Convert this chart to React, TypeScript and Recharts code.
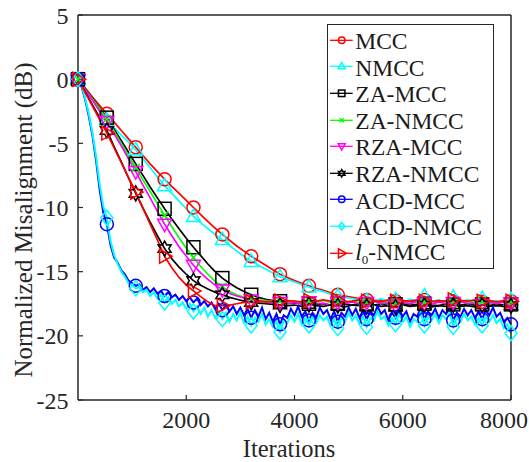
import { LineChart, Line, XAxis, YAxis, Label } from "recharts"

const FONT = "'Liberation Serif', 'DejaVu Serif', serif"
const AXIS_COLOR = "#262626"

// iteration grids (coarse: every 133.3, fine: every 66.7)
const ITER_COARSE = [
  0, 133, 267, 400, 533, 667, 800, 933, 1067, 1200,
  1333, 1467, 1600, 1733, 1867, 2000, 2133, 2267, 2400, 2533,
  2667, 2800, 2933, 3067, 3200, 3333, 3467, 3600, 3733, 3867,
  4000, 4133, 4267, 4400, 4533, 4667, 4800, 4933, 5067, 5200,
  5333, 5467, 5600, 5733, 5867, 6000, 6133, 6267, 6400, 6533,
  6667, 6800, 6933, 7067, 7200, 7333, 7467, 7600, 7733, 7867,
  8000,
]

const ITER_FINE = [
  0, 67, 133, 200, 267, 333, 400, 467, 533, 600,
  667, 733, 800, 867, 933, 1000, 1067, 1133, 1200, 1267,
  1333, 1400, 1467, 1533, 1600, 1667, 1733, 1800, 1867, 1933,
  2000, 2067, 2133, 2200, 2267, 2333, 2400, 2467, 2533, 2600,
  2667, 2733, 2800, 2867, 2933, 3000, 3067, 3133, 3200, 3267,
  3333, 3400, 3467, 3533, 3600, 3667, 3733, 3800, 3867, 3933,
  4000, 4067, 4133, 4200, 4267, 4333, 4400, 4467, 4533, 4600,
  4667, 4733, 4800, 4867, 4933, 5000, 5067, 5133, 5200, 5267,
  5333, 5400, 5467, 5533, 5600, 5667, 5733, 5800, 5867, 5933,
  6000, 6067, 6133, 6200, 6267, 6333, 6400, 6467, 6533, 6600,
  6667, 6733, 6800, 6867, 6933, 7000, 7067, 7133, 7200, 7267,
  7333, 7400, 7467, 7533, 7600, 7667, 7733, 7800, 7867, 7933,
  8000,
]

const X_TICKS = [2000, 4000, 6000, 8000]
const Y_TICKS = [-25, -20, -15, -10, -5, 0, 5]

const MCC = [
  0, -0.7, -1.4, -2.05, -2.7, -3.35, -4.0, -4.65, -5.3, -5.95,
  -6.6, -7.2, -7.8, -8.35, -8.9, -9.45, -10.0, -10.55, -11.1, -11.6,
  -12.1, -12.55, -13.0, -13.4, -13.8, -14.15, -14.5, -14.85, -15.2, -15.45,
  -15.7, -15.9, -16.1, -16.3, -16.45, -16.65, -16.8, -16.9, -17.0, -17.1,
  -17.2, -17.25, -17.2, -17.3, -17.3, -17.25, -17.35, -17.3, -17.2, -17.3,
  -17.35, -17.25, -17.3, -17.4, -17.3, -17.25, -17.35, -17.3, -17.4, -17.3,
  -17.3,
]

const NMCC = [
  0, -0.8, -1.6, -2.4, -3.2, -3.8, -4.35, -4.9, -5.5, -6.2,
  -6.9, -7.6, -8.3, -8.9, -9.5, -10.1, -10.7, -11.2, -11.65, -12.1,
  -12.5, -12.95, -13.4, -13.8, -14.2, -14.5, -14.8, -15.1, -15.4, -15.6,
  -15.8, -16.0, -16.2, -16.4, -16.55, -16.75, -16.9, -17.0, -17.1, -17.2,
  -17.25, -17.3, -17.1, -17.35, -17.2, -17.4, -17.15, -17.3, -16.9, -17.3,
  -17.2, -17.4, -17.0, -17.3, -17.2, -17.35, -17.1, -17.3, -17.25, -17.4,
  -17.2,
]

const ZA_MCC = [
  0, -0.75, -1.5, -2.25, -3.0, -3.9, -4.8, -5.7, -6.6, -7.5,
  -8.4, -9.25, -10.1, -10.9, -11.65, -12.4, -13.1, -13.75, -14.4, -15.0,
  -15.5, -15.9, -16.25, -16.55, -16.8, -17.0, -17.15, -17.25, -17.3, -17.4,
  -17.45, -17.4, -17.5, -17.55, -17.5, -17.6, -17.5, -17.55, -17.6, -17.5,
  -17.55, -17.6, -17.5, -17.65, -17.55, -17.5, -17.6, -17.55, -17.5, -17.6,
  -17.65, -17.5, -17.55, -17.6, -17.5, -17.6, -17.55, -17.65, -17.5, -17.6,
  -17.55,
]

const ZA_NMCC = [
  0, -0.8, -1.55, -2.3, -3.1, -4.05, -5.0, -5.95, -6.9, -7.85,
  -8.75, -9.7, -10.6, -11.5, -12.35, -13.15, -13.9, -14.6, -15.2, -15.75,
  -16.2, -16.55, -16.8, -17.0, -17.1, -17.2, -17.25, -17.3, -17.3, -17.4,
  -17.3, -17.45, -17.3, -17.4, -17.25, -17.4, -17.35, -17.45, -17.3, -17.4,
  -17.35, -17.3, -17.45, -17.35, -17.4, -17.3, -17.45, -17.35, -17.4, -17.25,
  -17.4, -17.35, -17.45, -17.3, -17.4, -17.35, -17.3, -17.45, -17.35, -17.4,
  -17.35,
]

const RZA_MCC = [
  0, -0.85, -1.65, -2.5, -3.3, -4.25, -5.2, -6.2, -7.2, -8.25,
  -9.25, -10.3, -11.3, -12.2, -13.05, -13.8, -14.5, -15.1, -15.6, -16.05,
  -16.4, -16.7, -16.9, -17.05, -17.2, -17.3, -17.35, -17.4, -17.4, -17.5,
  -17.4, -17.55, -17.35, -17.5, -17.45, -17.6, -17.4, -17.5, -17.35, -17.55,
  -17.4, -17.3, -17.5, -17.45, -17.6, -17.4, -17.5, -17.3, -17.45, -17.55,
  -17.35, -17.5, -17.4, -17.3, -17.5, -17.45, -17.55, -17.4, -17.5, -17.35,
  -17.45,
]

const RZA_NMCC = [
  0, -1.0, -2.0, -3.0, -4.0, -5.25, -6.45, -7.7, -8.9, -10.05,
  -11.15, -12.2, -13.2, -14.0, -14.65, -15.2, -15.7, -16.05, -16.35, -16.6,
  -16.8, -17.0, -17.15, -17.3, -17.4, -17.45, -17.5, -17.55, -17.6, -17.65,
  -17.6, -17.7, -17.55, -17.65, -17.7, -17.6, -17.65, -17.75, -17.6, -17.65,
  -17.7, -17.6, -17.7, -17.65, -17.75, -17.6, -17.7, -17.65, -17.6, -17.75,
  -17.65, -17.7, -17.6, -17.7, -17.65, -17.75, -17.6, -17.7, -17.65, -17.7,
  -17.65,
]

const ACD_MCC = [
  0, -0.6, -1.6, -2.9, -4.4, -6.3, -8.6, -10.4, -11.3, -12.9,
  -13.9, -14.3, -14.9, -15.2, -15.7, -15.9, -16.1, -16.0, -16.4, -16.2,
  -16.6, -16.3, -16.7, -16.5, -16.9, -16.6, -17.0, -16.8, -17.2, -16.9,
  -17.3, -17.0, -17.4, -17.1, -17.6, -17.3, -17.7, -17.4, -17.9, -17.5,
  -18.0, -17.6, -18.1, -17.7, -18.3, -17.8, -18.4, -17.9, -18.6, -18.0,
  -18.5, -17.8, -18.7, -18.2, -18.9, -18.3, -19.1, -18.4, -18.6, -17.9,
  -18.4, -17.7, -18.5, -18.1, -18.8, -18.2, -18.6, -17.8, -18.3, -18.0,
  -18.7, -18.1, -18.9, -18.2, -18.5, -17.8, -18.4, -17.9, -18.6, -18.0,
  -18.7, -18.1, -18.4, -17.7, -18.3, -18.0, -18.8, -18.2, -18.6, -17.9,
  -18.5, -18.1, -18.9, -18.3, -18.5, -17.8, -18.7, -18.1, -18.4, -17.9,
  -18.6, -18.0, -18.3, -17.8, -18.8, -18.2, -18.5, -17.9, -18.4, -18.0,
  -18.6, -18.1, -18.7, -18.0, -18.4, -17.8, -18.5, -18.2, -18.9, -18.6,
  -19.1,
]

const ACD_NMCC = [
  0, -0.5, -1.5, -2.7, -4.2, -6.0, -8.2, -9.9, -10.8, -12.6,
  -13.7, -14.4, -15.0, -15.4, -15.9, -16.0, -16.3, -16.2, -16.6, -16.4,
  -16.9, -16.6, -17.1, -16.8, -17.4, -17.0, -17.5, -17.2, -17.7, -17.4,
  -17.9, -17.5, -18.1, -17.7, -18.3, -17.8, -18.5, -18.0, -18.6, -18.1,
  -18.7, -18.2, -18.9, -18.3, -18.8, -18.2, -19.0, -18.5, -19.2, -18.6,
  -18.9, -18.3, -19.1, -18.7, -19.3, -18.9, -19.7, -18.8, -19.0, -18.4,
  -18.9, -18.3, -19.1, -18.6, -19.2, -18.5, -19.0, -18.4, -18.8, -18.5,
  -19.2, -18.7, -19.4, -18.6, -18.9, -18.2, -18.8, -18.4, -19.1, -18.5,
  -19.3, -18.6, -18.8, -18.1, -18.7, -18.5, -19.2, -18.6, -19.1, -18.3,
  -18.9, -18.5, -19.3, -18.7, -18.9, -18.2, -19.2, -18.5, -18.8, -18.3,
  -19.0, -18.4, -18.7, -18.2, -19.3, -18.6, -18.9, -18.3, -18.8, -18.5,
  -19.1, -18.6, -19.2, -18.5, -18.9, -18.4, -19.0, -18.7, -19.4, -19.1,
  -19.8,
]

const L0_NMCC = [
  0, -1.05, -2.1, -3.15, -4.2, -5.35, -6.5, -7.65, -8.8, -10.05,
  -11.3, -12.55, -13.8, -14.7, -15.45, -16.05, -16.5, -16.95, -17.35, -17.65,
  -17.65, -17.6, -17.5, -17.4, -17.35, -17.3, -17.35, -17.3, -17.3, -17.25,
  -17.3, -17.35, -17.25, -17.3, -17.2, -17.3, -17.25, -17.35, -17.3, -17.2,
  -17.3, -17.25, -17.35, -17.2, -17.3, -17.25, -17.3, -17.2, -17.3, -17.35,
  -17.25, -17.3, -17.2, -17.25, -17.3, -17.2, -17.3, -17.25, -17.35, -17.25,
  -17.3,
]

type Shape = "circle" | "triUp" | "square" | "cross" | "triDown" | "hexagram" | "diamond" | "triRight"

interface SeriesDef {
  name: string
  iters: number[]
  values: number[]
  color: string
  shape: Shape
  every: number
}

const SERIES: SeriesDef[] = [
  { name: "MCC", iters: ITER_COARSE, values: MCC, color: "#ff0000", shape: "circle", every: 4 },
  { name: "NMCC", iters: ITER_COARSE, values: NMCC, color: "#00ffff", shape: "triUp", every: 4 },
  { name: "ZA-MCC", iters: ITER_COARSE, values: ZA_MCC, color: "#000000", shape: "square", every: 4 },
  { name: "ZA-NMCC", iters: ITER_COARSE, values: ZA_NMCC, color: "#00ff00", shape: "cross", every: 4 },
  { name: "RZA-MCC", iters: ITER_COARSE, values: RZA_MCC, color: "#ff00ff", shape: "triDown", every: 4 },
  { name: "RZA-NMCC", iters: ITER_COARSE, values: RZA_NMCC, color: "#000000", shape: "hexagram", every: 4 },
  { name: "ACD-MCC", iters: ITER_FINE, values: ACD_MCC, color: "#0000ff", shape: "circle", every: 8 },
  { name: "ACD-NMCC", iters: ITER_FINE, values: ACD_NMCC, color: "#00ffff", shape: "diamond", every: 8 },
  { name: "l0-NMCC", iters: ITER_COARSE, values: L0_NMCC, color: "#ff0000", shape: "triRight", every: 4 },
]

function Marker({ shape, cx, cy, color, s = 1 }: { shape: Shape; cx: number; cy: number; color: string; s?: number }) {
  const common = { fill: "none", stroke: color, strokeWidth: 1.5 }
  switch (shape) {
    case "circle":
      return <circle cx={cx} cy={cy} r={6.5 * s} {...common} />
    case "square":
      return <rect x={cx - 6.5 * s} y={cy - 6.5 * s} width={13 * s} height={13 * s} {...common} />
    case "triUp":
      return <polygon points={`${cx},${cy - 7.5 * s} ${cx - 7 * s},${cy + 5 * s} ${cx + 7 * s},${cy + 5 * s}`} {...common} />
    case "triDown":
      return <polygon points={`${cx},${cy + 7.5 * s} ${cx - 7 * s},${cy - 5 * s} ${cx + 7 * s},${cy - 5 * s}`} {...common} />
    case "triRight":
      return <polygon points={`${cx + 7.5 * s},${cy} ${cx - 5 * s},${cy - 7 * s} ${cx - 5 * s},${cy + 7 * s}`} {...common} />
    case "diamond":
      return <polygon points={`${cx},${cy - 7.5 * s} ${cx + 6 * s},${cy} ${cx},${cy + 7.5 * s} ${cx - 6 * s},${cy}`} {...common} />
    case "cross":
      return (
        <g {...common}>
          <line x1={cx - 4 * s} y1={cy - 4 * s} x2={cx + 4 * s} y2={cy + 4 * s} />
          <line x1={cx - 4 * s} y1={cy + 4 * s} x2={cx + 4 * s} y2={cy - 4 * s} />
        </g>
      )
    case "hexagram": {
      const pts: string[] = []
      for (let k = 0; k < 12; k++) {
        const r = (k % 2 === 0 ? 7.5 : 4.2) * s
        const a = ((90 + k * 30) * Math.PI) / 180
        pts.push(`${cx + r * Math.cos(a)},${cy - r * Math.sin(a)}`)
      }
      return <polygon points={pts.join(" ")} {...common} />
    }
  }
  return null
}

const tickStyle = { fill: AXIS_COLOR, fontSize: 24, fontFamily: FONT }

// MATLAB pulls the last x label inside the figure edge
function XTick(p: any) {
  const v = p.payload.value
  return (
    <text
      x={p.x + (v === 8000 ? -7 : 0)}
      y={p.y}
      dy="0.71em"
      textAnchor="middle"
      fontSize={24}
      fontFamily={FONT}
      fill={AXIS_COLOR}
    >
      {v}
    </text>
  )
}

export default function App() {
  return (
    <div style={{ position: "absolute", left: 0, top: 0, width: 529, height: 462, background: "#fff", fontFamily: FONT }}>
      <LineChart width={529} height={462} margin={{ top: 10, right: 13, bottom: 0, left: 0 }} style={{ fontFamily: FONT }}>
        <XAxis
          dataKey="x"
          type="number"
          domain={[0, 8000]}
          ticks={X_TICKS}
          interval={0}
          height={62}
          tickSize={-5}
          tickMargin={16}
          tick={<XTick />}
          axisLine={{ stroke: AXIS_COLOR, strokeWidth: 1.5 }}
          tickLine={{ stroke: AXIS_COLOR, strokeWidth: 1.2 }}
        >
          <Label
            content={() => (
              <text x={289} y={456.5} textAnchor="middle" fontSize={24.5} fontFamily={FONT} fill={AXIS_COLOR}>
                Iterations
              </text>
            )}
          />
        </XAxis>
        <XAxis
          xAxisId="top"
          orientation="top"
          dataKey="x"
          type="number"
          domain={[0, 8000]}
          ticks={X_TICKS}
          interval={0}
          height={5}
          tickSize={-5}
          tickFormatter={() => ""}
          axisLine={{ stroke: AXIS_COLOR, strokeWidth: 1.5 }}
          tickLine={{ stroke: AXIS_COLOR, strokeWidth: 1.2 }}
        />
        <YAxis
          type="number"
          domain={[-25, 5]}
          ticks={Y_TICKS}
          interval={0}
          width={78}
          tickSize={-5}
          tickMargin={14.5}
          tick={tickStyle}
          axisLine={{ stroke: AXIS_COLOR, strokeWidth: 1.5 }}
          tickLine={{ stroke: AXIS_COLOR, strokeWidth: 1.2 }}
        >
          <Label
            content={() => (
              <text
                x={0}
                y={0}
                transform="translate(32,220) rotate(-90)"
                textAnchor="middle"
                fontSize={25}
                fontFamily={FONT}
                fill={AXIS_COLOR}
              >
                Normalized Misalignment (dB)
              </text>
            )}
          />
        </YAxis>
        <YAxis
          yAxisId="right"
          orientation="right"
          type="number"
          domain={[-25, 5]}
          ticks={Y_TICKS}
          interval={0}
          width={5}
          tickSize={-5}
          tickFormatter={() => ""}
          axisLine={{ stroke: AXIS_COLOR, strokeWidth: 1.5 }}
          tickLine={{ stroke: AXIS_COLOR, strokeWidth: 1.2 }}
        />
        {SERIES.map((s) => {
          const rows = s.iters.map((x, i) => ({ x, y: s.values[i] }))
          return (
            <Line
              key={s.name}
              data={rows}
              dataKey="y"
              name={s.name}
              type="linear"
              stroke={s.color}
              strokeWidth={s.every === 8 ? 2 : 1.7}
              isAnimationActive={false}
              activeDot={false}
              dot={(p: any) =>
                p.index % s.every === 0 ? (
                  <g key={`${s.name}-${p.index}`}>
                    <Marker shape={s.shape} cx={p.cx} cy={p.cy} color={s.color} />
                  </g>
                ) : (
                  <g key={`${s.name}-${p.index}`} />
                )
              }
            />
          )
        })}
      </LineChart>
      <div
        style={{
          position: "absolute",
          left: 327,
          top: 24,
          width: 167,
          height: 245,
          boxSizing: "border-box",
          border: `1px solid ${AXIS_COLOR}`,
          background: "#fff",
        }}
      >
        {SERIES.map((s, k) => (
          <div
            key={s.name}
            style={{
              position: "absolute",
              left: 0,
              top: 1.7 + 26.6 * k,
              height: 26.6,
              display: "flex",
              alignItems: "center",
              whiteSpace: "nowrap",
            }}
          >
            <svg width={27} height={26.6} style={{ display: "block" }}>
              <line x1={2} y1={13.3} x2={24.7} y2={13.3} stroke={s.color} strokeWidth={1.3} />
              <Marker shape={s.shape} cx={13.7} cy={13.3} color={s.color} s={s.shape === "triRight" ? 0.65 : 0.5} />
            </svg>
            <span style={{ fontSize: 23.5, lineHeight: "23px", color: "#1a1a1a", paddingTop: 3, marginLeft: 0.3 }}>
              {s.name === "l0-NMCC" ? (
                <>
                  {" "}
                  <i>l</i>
                  <span style={{ fontSize: 13, position: "relative", top: 4 }}>0</span>-NMCC
                </>
              ) : (
                s.name
              )}
            </span>
          </div>
        ))}
      </div>
    </div>
  )
}
